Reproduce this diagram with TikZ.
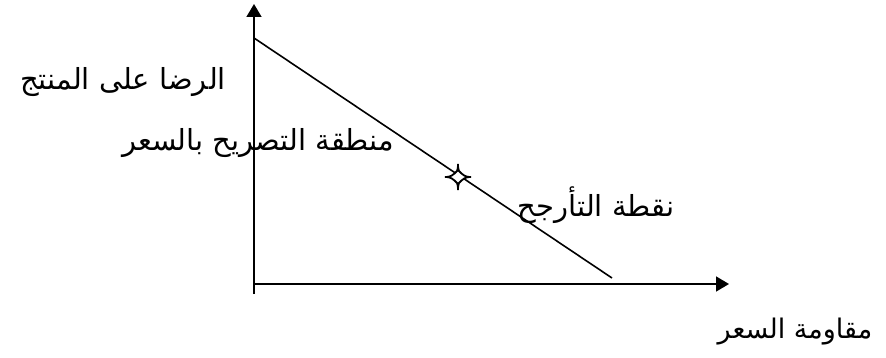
\documentclass[tikz,border=0pt]{standalone}
\usepackage{fontspec}
\newfontfamily\arabicfont[Script=Arabic]{DejaVu Sans}
\TeXXeTstate=1
\usetikzlibrary{arrows.meta}
\begin{document}
\begin{tikzpicture}[x=1pt,y=-1pt,
  axis/.style={line width=1.6pt,-{Triangle[length=13pt,width=15pt]}},
  curve/.style={line width=1.6pt},
  lbl/.style={font=\arabicfont\fontsize{29}{32}\selectfont,inner sep=0pt}]
\useasboundingbox (0,0) rectangle (886,358);
\coordinate (O) at (254,284);
\coordinate (ybot) at (254,294);
\coordinate (ytip) at (254,4);
\coordinate (xtip) at (729,284);
\coordinate (lstart) at (254,38);
\coordinate (lend) at (612,278);
\draw[axis] (ybot) -- (ytip);
\draw[axis] (O) -- (xtip);
\draw[curve] (lstart) -- (lend);
\node[inner sep=0pt] (star) at (458,177) {};
\draw[line width=1.8pt,fill=white] (star.center) ++(0,-13)
  .. controls +(0,7) and +(-2,-1) .. ++(3.5,9.5)
  .. controls +(2,1) and +(-7,0) .. ++(9.5,3.5)
  .. controls +(-7,0) and +(2,-1) .. ++(-9.5,3.5)
  .. controls +(-2,1) and +(0,-7) .. ++(-3.5,9.5)
  .. controls +(0,-7) and +(2,1) .. ++(-3.5,-9.5)
  .. controls +(-2,-1) and +(7,0) .. ++(-9.5,-3.5)
  .. controls +(7,0) and +(-2,1) .. ++(9.5,-3.5)
  .. controls +(2,-1) and +(0,7) .. cycle;
\node[lbl] (ylab) at (123,82) {\beginR الرضا على المنتج\endR};
\node[lbl] (zone) at (258,143) {\beginR منطقة التصريح بالسعر\endR};
\node[lbl] (pivot) at (596,205) {\beginR نقطة التأرجح\endR};
\node[lbl,font=\arabicfont\fontsize{27}{30}\selectfont] (xlab) at (795,332) {\beginR مقاومة السعر\endR};
\end{tikzpicture}
\end{document}
